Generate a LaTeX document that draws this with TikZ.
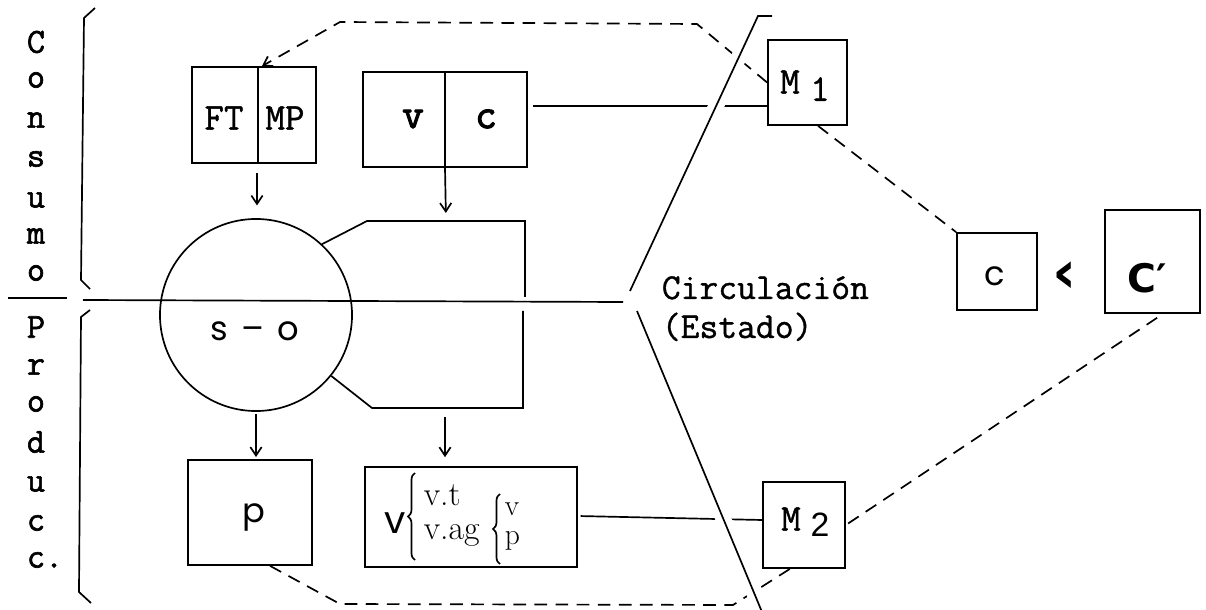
\documentclass[tikz,border=0pt]{standalone}
\usepackage{fontspec}
\newfontfamily\twf{Latin Modern Mono}[FakeBold=1]
\newfontfamily\twmid{Latin Modern Mono}[FakeBold=1.8]
\newfontfamily\twbold{Latin Modern Mono}[FakeBold=2.5]
\newfontfamily\geof{Poppins}
\newfontfamily\dvf{DejaVu Sans}
\newfontfamily\lsf{Liberation Sans}
\usetikzlibrary{arrows.meta,decorations.pathreplacing,calc}
\begin{document}
\begin{tikzpicture}[x=0.025cm,y=-0.025cm, line width=1.2pt,
  box/.style={draw, inner sep=0pt},
  arr/.style={-{Straight Barb[length=6pt,width=8pt]}},
  dsh/.style={dash pattern=on 9pt off 6pt},
  tw/.style={font=\twf\fontsize{27pt}{30pt}\selectfont, inner sep=0pt},
  twc/.style={font=\twf\fontsize{26pt}{30pt}\selectfont, inner sep=0pt},
  twl/.style={font=\twmid\fontsize{25pt}{27pt}\selectfont, inner sep=0pt},
  twb/.style={font=\twbold\fontsize{30pt}{32pt}\selectfont, inner sep=0pt},
  geo/.style={font=\geof\fontsize{24pt}{28pt}\selectfont, inner sep=0pt},
  geobig/.style={font=\geof\fontsize{27pt}{30pt}\selectfont, inner sep=0pt},
  lmt/.style={font=\fontsize{24pt}{26pt}\selectfont, inner sep=0pt},
  lms/.style={font=\fontsize{21pt}{22pt}\selectfont, inner sep=0pt},
  lst/.style={font=\lsf\fontsize{24pt}{26pt}\selectfont, inner sep=0pt},
  dvb/.style={font=\dvf\bfseries\fontsize{28pt}{32pt}\selectfont, inner sep=0pt},
  chevstyle/.style={font=\dvf\bfseries\fontsize{42pt}{44pt}\selectfont, inner sep=0pt},
  bracestyle/.style={decorate, decoration={brace, amplitude=5pt}}
]
\useasboundingbox[fill=white] (0,0) rectangle (1206,610);

% left vertical words
\foreach \ch/\yy [count=\i] in {C/42, o/80, n/120, s/159, u/200, m/236, o/273}
  \node[twl] (cons\i) at (36,\yy) {\ch};
\foreach \ch/\yy [count=\i] in {P/327, r/367, o/404, d/442, u/484, c/523}
  \node[twl] (prod\i) at (36,\yy) {\ch};
\node[twl] (prod7) at (36,560) {c\rlap{.}};

% brackets
\draw (95,8) -- (84,18) -- (81,280) -- (90,289);
\draw (90,310) -- (81,317) -- (79,592) -- (91,603);

% main horizontal line
\coordinate (hl0) at (8,298);
\coordinate (hl1) at (67,298);
\coordinate (h1) at (83,300);
\coordinate (h2) at (623,302);
\draw (hl0) -- (hl1);
\draw (h1) -- (h2);

% boxes
\node[box, minimum width=3.1cm, minimum height=2.4cm] (ftmp) at (254,115) {};
\draw (ftmp.north -| 258,0) -- (ftmp.south -| 258,0);
\node[tw] (ft) at (224,118) {FT};
\node[tw] (mp) at (285,118) {MP};

\node[box, minimum width=4.1cm, minimum height=2.375cm] (vc) at (445,119.5) {};
\draw (vc.north) -- (vc.south);
\node[twb] (lv) at (413,119) {v};
\node[twb] (lc) at (486,119) {c};

\node[circle, draw, minimum size=4.8cm, inner sep=0pt] (so) at (256,315) {};
\node[geo] (sotxt) at (255,331) {s\hspace{0.4em}–\hspace{0.4em}o};

\coordinate (tp1) at (367,221);
\coordinate (tp2) at (525,221);
\coordinate (tp3) at (525,297);
\draw (so.47) -- (tp1) -- (tp2) -- (tp3);
\coordinate (bp1) at (372,408);
\coordinate (bp2) at (523,408);
\coordinate (bp3) at (523,311);
\draw (so.-39) -- (bp1) -- (bp2) -- (bp3);

\node[box, minimum width=3.1cm, minimum height=2.625cm] (pb) at (250,512.5) {};
\node[geo] (ptxt) at (254,517) {p};

\node[box, minimum width=5.3cm, minimum height=2.5cm] (vb) at (471,517) {};
\node[geobig] (vtxt) at (395,523) {v};
\draw[bracestyle] (415,560) -- (415,473);
\node[lmt, anchor=base west] (vt) at (423,505) {v.t};
\node[lmt, anchor=base west] (vag) at (423,539) {v.ag};
\draw[bracestyle] (500,564) -- (500,494);
\node[lms, anchor=base west] (vv) at (504,515) {v};
\node[lms, anchor=base west] (vp) at (504,544) {p};

\node[box, minimum width=1.975cm, minimum height=2.125cm] (M1) at (807.5,82.5) {};
\node[tw] (m1a) at (790,82) {M};
\node[tw] (m1b) at (820,89) {1};

\node[box, minimum width=2.05cm, minimum height=2.15cm] (M2) at (804,525) {};
\node[tw] (m2a) at (791,519) {M};
\node[lst] (m2b) at (820,525) {2};

\node[box, minimum width=2cm, minimum height=1.925cm] (cb) at (997,271.5) {};
\node[geo] (ctxt) at (995,276) {c};

\node[chevstyle] (chev) at (1065,277) {‹};

\node[box, minimum width=2.375cm, minimum height=2.575cm] (Cb) at (1152.5,261.5) {};
\node[dvb, anchor=base west] (cprime) at (1127,292) {C′};

\node[twc, anchor=base west] (circ) at (661,299) {Circulación};
\node[twc, anchor=base west] (est) at (661,338) {(Estado)};

% arrows
\draw[arr, shorten <=6.4pt, shorten >=9pt] (ftmp.south -| 257,0) -- (so.north -| 257,0);
\coordinate (tpa) at (446,221);
\draw[arr, shorten >=5.7pt] (vc.south) -- (tpa);
\draw[arr, shorten <=1.5pt, shorten >=1.5pt] (so.south) -- (pb.north -| so.south);
\coordinate (bpa) at (445,408);
\draw[arr, shorten <=6.4pt, shorten >=6.4pt] (bpa) -- (vb.north -| bpa);

% solid connectors
\draw[shorten <=4pt] (vc.east |- 0,106) -- (M1.west |- 0,106);
\draw[shorten <=2pt] (vb.east |- 0,516) -- (M2.west |- 0,520);

% dashed connectors
\coordinate (d1) at (697,24);
\coordinate (d2) at (340,22);
\draw[dsh, arr] (M1.west) -- (d1) -- (d2) -- (ftmp.north -| 262,0);
\draw[dsh] (M1.south -| 818,0) -- (cb.north west);
\coordinate (d3) at (340,604);
\coordinate (d4) at (733,605);
\draw[dsh] (pb.south -| 270,0) -- (d3) -- (d4) -- (M2.south -| 790,0);
\draw[dsh, shorten <=5pt] (Cb.south -| 1163,0) -- (M2.east);

% slanted separators
\coordinate (sa2) at (772,16);
\coordinate (sa) at (758,16);
\coordinate (sb) at (630,291);
\coordinate (sc) at (637,311);
\coordinate (sd) at (762,612);
\draw[preaction={draw=white, line width=11pt}] (sa2) -- (sa) -- (sb);
\draw[preaction={draw=white, line width=11pt}] (sc) -- (sd);
\end{tikzpicture}
\end{document}
